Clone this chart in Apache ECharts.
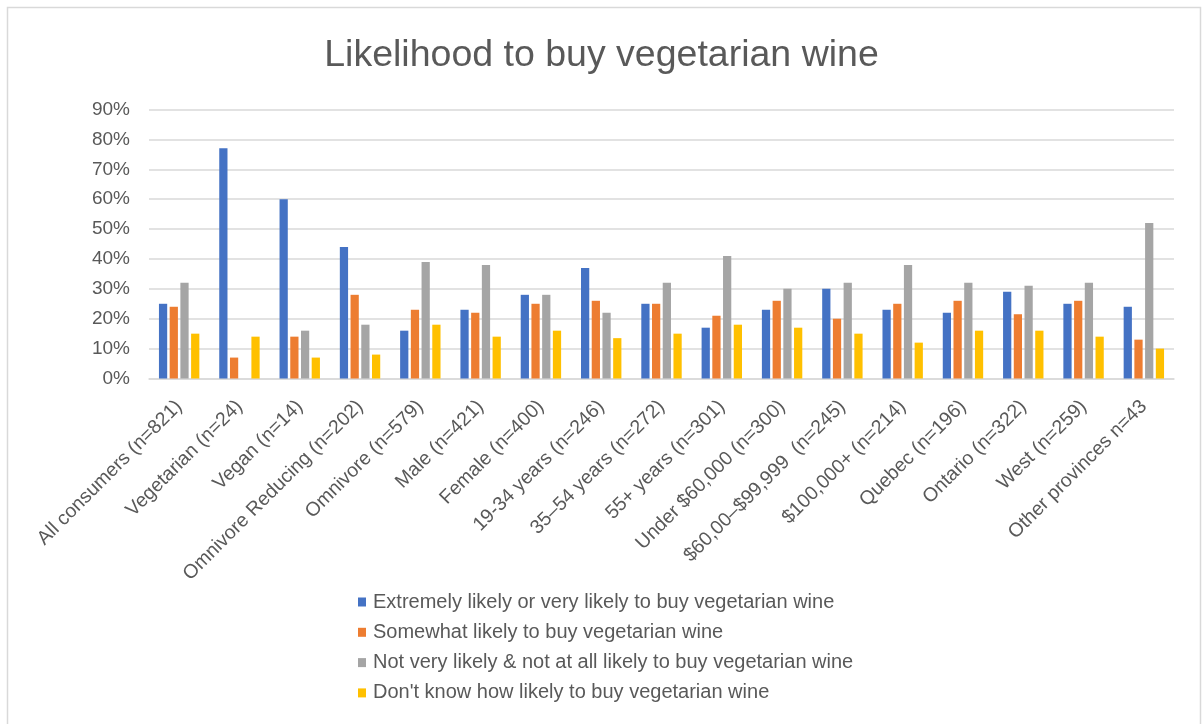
<!DOCTYPE html>
<html>
<head>
<meta charset="utf-8">
<script src="https://cdn.jsdelivr.net/npm/echarts@6/dist/echarts.min.js"></script>
<style>
  html, body { margin: 0; padding: 0; background: #ffffff; }
  #chart { width: 1203px; height: 724px; }
</style>
</head>
<body>
<div id="chart"></div>
<script>
// Respondent groups along the x axis
const categories = [
  'All consumers (n=821)', 'Vegetarian (n=24)', 'Vegan (n=14)',
  'Omnivore Reducing (n=202)', 'Omnivore (n=579)', 'Male (n=421)',
  'Female (n=400)', '19-34 years (n=246)', '35–54 years (n=272)',
  '55+ years (n=301)', 'Under $60,000 (n=300)', '$60,00–$99,999  (n=245)',
  '$100,000+ (n=214)', 'Quebec (n=196)', 'Ontario (n=322)',
  'West (n=259)', 'Other provinces n=43'
];

// Series names
const seriesNames = [
  'Extremely likely or very likely to buy vegetarian wine',
  'Somewhat likely to buy vegetarian wine',
  'Not very likely & not at all likely to buy vegetarian wine',
  "Don't know how likely to buy vegetarian wine"
];

// Share of respondents (%) per group
const extremelyLikely = [25, 77, 60, 44, 16, 23, 28, 37, 25, 17, 23, 30, 23, 22, 29, 25, 24];
const somewhatLikely  = [24, 7, 14, 28, 23, 22, 25, 26, 25, 21, 26, 20, 25, 26, 21.5, 26, 13];
const notLikely       = [32, 0, 16, 18, 39, 38, 28, 22, 32, 41, 30, 32, 38, 32, 31, 32, 52];
const dontKnow        = [15, 14, 7, 8, 18, 14, 16, 13.5, 15, 18, 17, 15, 12, 16, 16, 14, 10];

// Y axis ticks (%)
const yTicks = [0, 10, 20, 30, 40, 50, 60, 70, 80, 90];

const colors = ['#4472C4', '#ED7D31', '#A5A5A5', '#FFC000'];
const values = [extremelyLikely, somewhatLikely, notLikely, dontKnow];
const textColor = '#595959';
const fontFamily = '"Liberation Sans", Arial, sans-serif';

const chart = echarts.init(document.getElementById('chart'), null, { renderer: 'canvas' });

chart.setOption({
  backgroundColor: '#ffffff',
  animation: false,
  color: colors,
  textStyle: { fontFamily: fontFamily },
  graphic: [{
    type: 'rect',
    shape: { x: 7.5, y: 7.5, width: 1193, height: 740 },
    style: { fill: 'none', stroke: '#D9D9D9', lineWidth: 1.5 },
    silent: true
  }],
  title: {
    text: 'Likelihood to buy vegetarian wine',
    left: 'center',
    top: 32,
    textStyle: { fontSize: 37.5, fontWeight: 'normal', color: textColor, fontFamily: fontFamily }
  },
  legend: {
    orient: 'vertical',
    left: 353,
    top: 587,
    itemWidth: 8,
    itemHeight: 9,
    itemGap: 10.3,
    icon: 'rect',
    data: seriesNames,
    textStyle: { fontSize: 20, color: textColor, lineHeight: 20, padding: [0, 0, 0, 2], fontFamily: fontFamily }
  },
  grid: { left: 149, right: 29, top: 109.5, bottom: 345.5, containLabel: false },
  xAxis: {
    type: 'category',
    data: categories,
    axisLine: { show: true, lineStyle: { color: '#D9D9D9', width: 1.5 } },
    axisTick: { show: false },
    axisLabel: {
      interval: 0,
      rotate: 45,
      margin: 25,
      fontSize: 19.5,
      color: textColor,
      fontFamily: fontFamily
    }
  },
  yAxis: {
    type: 'value',
    min: yTicks[0],
    max: yTicks[yTicks.length - 1],
    interval: 10,
    axisLine: { show: false },
    axisTick: { show: false },
    splitLine: { lineStyle: { color: '#D9D9D9', width: 1.5 } },
    axisLabel: {
      margin: 19,
      fontSize: 19,
      color: textColor,
      fontFamily: fontFamily,
      formatter: v => v + '%'
    }
  },
  series: seriesNames.map((name, i) => ({
    name: name,
    type: 'bar',
    data: values[i],
    barGap: '30%',
    barCategoryGap: '33%',
    itemStyle: { color: colors[i] }
  }))
});
</script>
</body>
</html>
